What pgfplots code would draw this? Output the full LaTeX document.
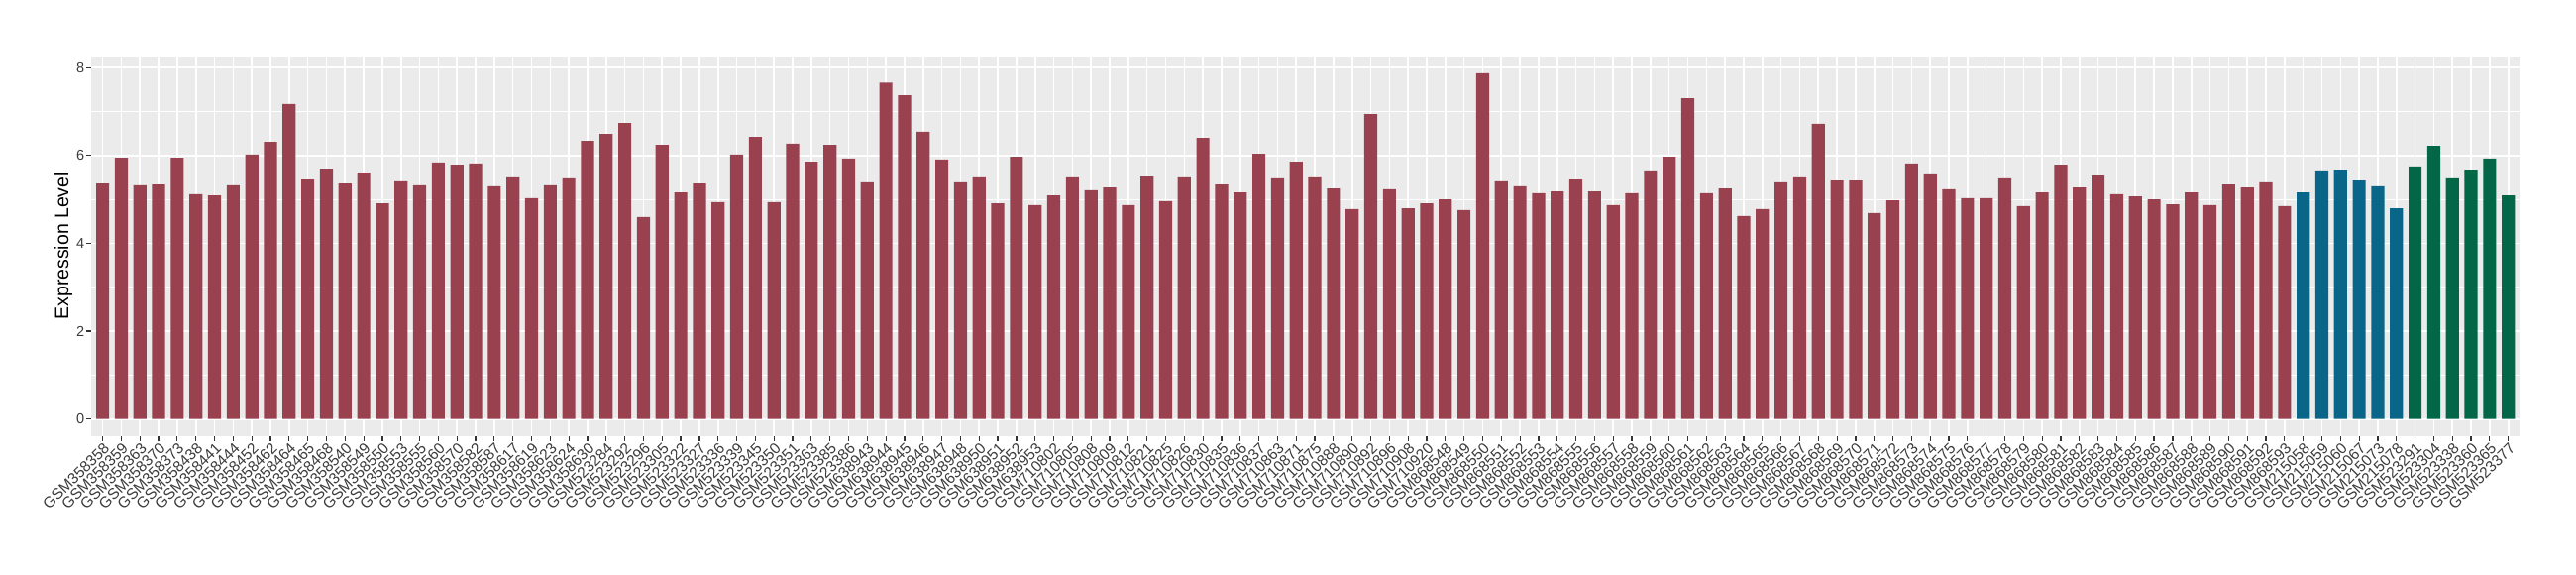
\documentclass[border=0pt]{standalone}
\usepackage{pgfplots}
\pgfplotsset{compat=1.18}
\usepackage{pgfplotstable}
\usepackage{fontspec}
\setmainfont{Liberation Sans}
\definecolor{barred}{RGB}{154,65,80}
\definecolor{barblue}{RGB}{10,102,136}
\definecolor{bargreen}{RGB}{3,102,70}
\definecolor{panelbg}{RGB}{235,235,235}
\definecolor{tickgray}{RGB}{51,51,51}
\definecolor{labgray}{RGB}{60,60,60}

\pgfplotstableread{
x y
0 5.36
1 5.95
2 5.32
3 5.34
4 5.95
5 5.12
6 5.09
7 5.32
8 6.02
9 6.31
10 7.17
11 5.45
12 5.70
13 5.36
14 5.61
15 4.91
16 5.41
17 5.32
18 5.84
19 5.79
20 5.82
21 5.30
22 5.50
23 5.03
24 5.32
25 5.48
26 6.33
27 6.49
28 6.74
29 4.60
30 6.24
31 5.16
32 5.36
33 4.94
34 6.02
35 6.42
36 4.94
37 6.27
38 5.86
39 6.24
40 5.93
41 5.39
42 7.66
43 7.37
44 6.54
45 5.91
46 5.39
47 5.50
48 4.91
49 5.97
50 4.87
51 5.09
52 5.50
53 5.21
54 5.27
55 4.87
56 5.52
57 4.96
58 5.50
59 6.40
60 5.34
61 5.16
62 6.04
63 5.48
64 5.86
65 5.50
66 5.25
67 4.78
68 6.94
69 5.23
70 4.80
71 4.91
72 5.00
73 4.76
74 7.87
75 5.41
76 5.30
77 5.14
78 5.18
79 5.45
80 5.18
81 4.87
82 5.14
83 5.66
84 5.97
85 7.30
86 5.14
87 5.25
88 4.62
89 4.78
90 5.39
91 5.50
92 6.72
93 5.43
94 5.43
95 4.69
96 4.98
97 5.82
98 5.57
99 5.23
100 5.03
101 5.03
102 5.48
103 4.85
104 5.16
105 5.79
106 5.27
107 5.54
108 5.12
109 5.07
110 5.00
111 4.89
112 5.16
113 4.87
114 5.34
115 5.27
116 5.39
117 4.85
}\redtab

\pgfplotstableread{
x y
118 5.16
119 5.66
120 5.68
121 5.43
122 5.30
123 4.80
}\bluetab

\pgfplotstableread{
x y
124 5.75
125 6.22
126 5.48
127 5.68
128 5.93
129 5.09
}\greentab

\begin{document}
\begin{tikzpicture}
\useasboundingbox (0,0) rectangle (2600pt,580pt);
\begin{axis}[
  at={(92.3pt,140pt)}, anchor=south west,
  scale only axis, width=2450.7pt, height=383.3pt,
  xmin=-0.6, xmax=129.6, ymin=-0.39, ymax=8.26,
  axis background/.style={fill=panelbg},
  axis line style={draw=none},
  xtick={0,...,129},
  xticklabels={GSM358358,GSM358359,GSM358363,GSM358370,GSM358373,GSM358438,GSM358441,GSM358444,GSM358452,GSM358462,GSM358464,GSM358465,GSM358468,GSM358540,GSM358549,GSM358550,GSM358553,GSM358555,GSM358560,GSM358570,GSM358582,GSM358587,GSM358617,GSM358619,GSM358623,GSM358624,GSM358630,GSM523284,GSM523292,GSM523296,GSM523305,GSM523322,GSM523327,GSM523336,GSM523339,GSM523345,GSM523350,GSM523351,GSM523363,GSM523385,GSM523386,GSM638943,GSM638944,GSM638945,GSM638946,GSM638947,GSM638948,GSM638950,GSM638951,GSM638952,GSM638953,GSM710802,GSM710805,GSM710808,GSM710809,GSM710812,GSM710821,GSM710825,GSM710826,GSM710830,GSM710835,GSM710836,GSM710837,GSM710863,GSM710871,GSM710875,GSM710888,GSM710890,GSM710892,GSM710896,GSM710908,GSM710920,GSM868548,GSM868549,GSM868550,GSM868551,GSM868552,GSM868553,GSM868554,GSM868555,GSM868556,GSM868557,GSM868558,GSM868559,GSM868560,GSM868561,GSM868562,GSM868563,GSM868564,GSM868565,GSM868566,GSM868567,GSM868568,GSM868569,GSM868570,GSM868571,GSM868572,GSM868573,GSM868574,GSM868575,GSM868576,GSM868577,GSM868578,GSM868579,GSM868580,GSM868581,GSM868582,GSM868583,GSM868584,GSM868585,GSM868586,GSM868587,GSM868588,GSM868589,GSM868590,GSM868591,GSM868592,GSM868593,GSM215058,GSM215059,GSM215060,GSM215067,GSM215073,GSM215078,GSM523291,GSM523304,GSM523338,GSM523360,GSM523365,GSM523377},
  ytick={0,2,4,6,8}, minor ytick={1,3,5,7},
  grid=both,
  major grid style={white, line width=1.6pt},
  minor grid style={white, line width=0.8pt},
  tick align=outside, xtick pos=left, ytick pos=left,
  major tick length=5pt, minor tick length=0pt,
  tick style={tickgray, line width=1.2pt},
  /pgf/number format/assume math mode=true,
  yticklabel style={font=\fontsize{14.5}{14.5}\selectfont, text=labgray, inner sep=0pt, xshift=-2pt},
  xticklabel style={font=\fontsize{15.5}{15.5}\selectfont, text=labgray, rotate=45, anchor=north east, inner sep=0pt},
  ylabel={Expression Level},
  ylabel style={font=\fontsize{19.5}{19.5}\selectfont, at={(axis description cs:-0.00775,0.5)}, anchor=south, inner sep=0pt},
]
\addplot[ybar, bar width=0.7, bar shift=0pt, fill=barred, draw=none] table[x=x,y=y]{\redtab};
\addplot[ybar, bar width=0.7, bar shift=0pt, fill=barblue, draw=none] table[x=x,y=y]{\bluetab};
\addplot[ybar, bar width=0.7, bar shift=0pt, fill=bargreen, draw=none] table[x=x,y=y]{\greentab};
\end{axis}
\end{tikzpicture}
\end{document}
